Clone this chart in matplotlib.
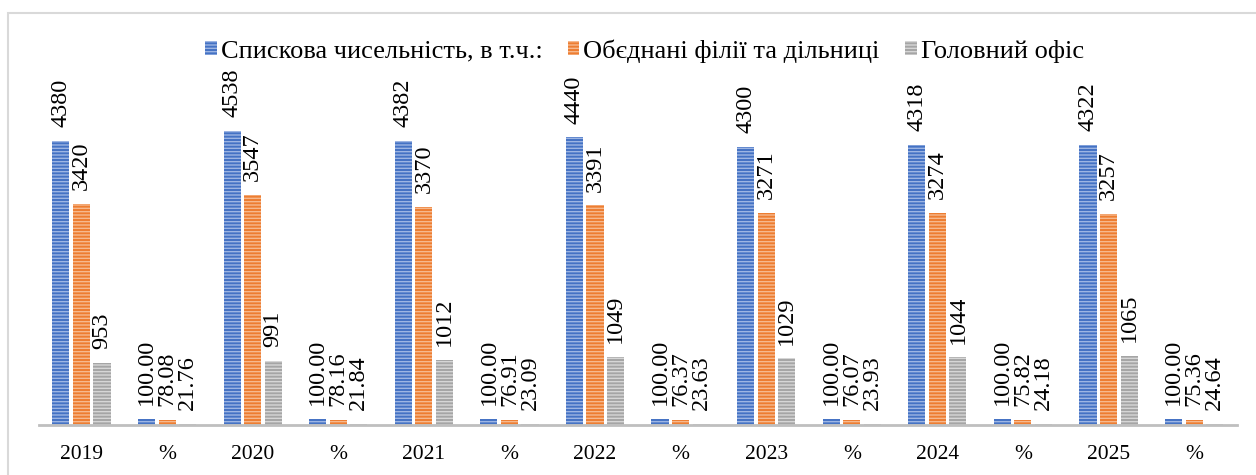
import numpy as np
import matplotlib.pyplot as plt
from matplotlib.patches import Patch, Rectangle

plt.rcParams['font.family'] = ['Liberation Serif', 'DejaVu Serif']
plt.rcParams['hatch.linewidth'] = 1.0

# категорії по осі X
categories = ['2019', '%', '2020', '%', '2021', '%', '2022', '%',
              '2023', '%', '2024', '%', '2025', '%']

# значення рядів
spyskova = [4380, 100.00, 4538, 100.00, 4382, 100.00, 4440, 100.00,
            4300, 100.00, 4318, 100.00, 4322, 100.00]
filii = [3420, 78.08, 3547, 78.16, 3370, 76.91, 3391, 76.37,
         3271, 76.07, 3274, 75.82, 3257, 75.36]
ofis = [953, 21.76, 991, 21.84, 1012, 23.09, 1049, 23.63,
        1029, 23.93, 1044, 24.18, 1065, 24.64]

series_names = ['Спискова чисельність, в т.ч.:', 'Обєднані філії та дільниці', 'Головний офіс']
face_colors = ['#4472C4', '#ED7D31', '#A5A5A5']
hatch_colors = ['#9DB5E3', '#F6B98E', '#D6D6D6']

fig = plt.figure(figsize=(12.56, 4.75), dpi=100)
ax = fig.add_axes([0.0308, 0.105, 0.954, 0.768])

x = np.arange(len(categories))
width = 0.2
step = 0.24

for k, vals in enumerate([spyskova, filii, ofis]):
    pos = x + (k - 1) * step
    ax.bar(pos, vals, width, color=face_colors[k], edgecolor=hatch_colors[k],
           hatch='-----', linewidth=0)
    for i, v in enumerate(vals):
        txt = f'{v:.2f}' if categories[i] == '%' else f'{int(v)}'
        ax.annotate(txt, (pos[i], v), xytext=(0, 10), textcoords='offset points',
                    rotation=90, ha='center', va='bottom', fontsize=17.5)

ax.set_xlim(-0.5, len(categories) - 0.5)
ax.set_ylim(0, 5630)
ax.set_xticks(x)
ax.set_xticklabels(categories, fontsize=15.5)
ax.tick_params(axis='x', length=0, pad=14)
ax.set_yticks([])
for s in ['top', 'right', 'left']:
    ax.spines[s].set_visible(False)
ax.spines['bottom'].set_color('#BFBFBF')
ax.spines['bottom'].set_linewidth(2)

handles = [Patch(facecolor=face_colors[k], edgecolor=hatch_colors[k], hatch='-----',
                 linewidth=0, label=series_names[k]) for k in range(3)]
fig.legend(handles=handles, loc='center', bbox_to_anchor=(0.513, 0.893), ncol=3,
           frameon=False, fontsize=19, handlelength=0.45, handleheight=0.45,
           handletextpad=0.15, columnspacing=0.95)

# рамка навколо діаграми
fig.patches.append(Rectangle((8 / 1256, -0.1), 1.2, 1.1 - 13 / 475,
                             transform=fig.transFigure, fill=False,
                             edgecolor='#D9D9D9', linewidth=1.5))

fig.savefig('out.png', dpi=100)
